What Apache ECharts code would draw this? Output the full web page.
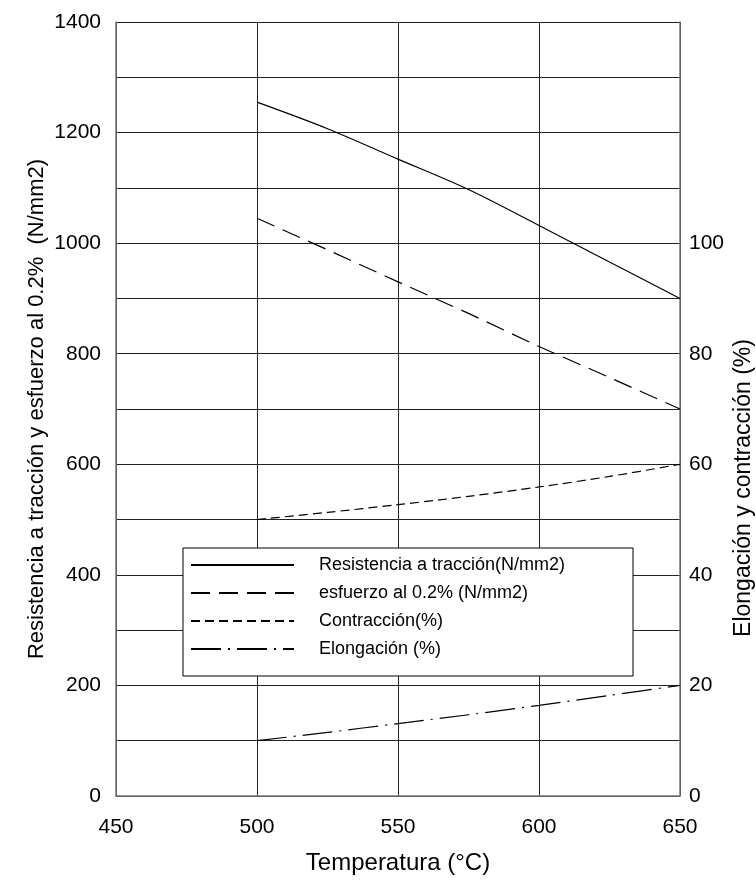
<!DOCTYPE html>
<html>
<head>
<meta charset="utf-8">
<script src="https://cdn.jsdelivr.net/npm/echarts@6/dist/echarts.min.js"></script>
<style>
html,body{margin:0;padding:0;background:#fff;}
#c{width:756px;height:880px;}
</style>
</head>
<body>
<div id="c"></div>
<script>
// ---- data ----
var temperaturas = [500, 525, 550, 575, 600, 625, 650];
var resistencia = [1255, 1207, 1152, 1097, 1032, 966, 900];
var esfuerzo = [1045, 988, 930, 873, 813, 757, 700];
var contraccion = [50, 51.3, 52.7, 54.2, 55.9, 57.8, 60];
var elongacion = [10, 11.5, 13.1, 14.7, 16.4, 18.2, 20];
var nombres = ['Resistencia a tracción(N/mm2)', 'esfuerzo al 0.2% (N/mm2)', 'Contracción(%)', 'Elongación (%)'];
var xTicks = [450, 500, 550, 600, 650];
var leftLabels = [0, 200, 400, 600, 800, 1000, 1200, 1400];
var rightLabels = [0, 20, 40, 60, 80, 100];

function pairs(xs, ys) { return xs.map(function (x, i) { return [x, ys[i]]; }); }

var FONT = '"Liberation Sans", Arial, sans-serif';
var LEG_FS = 18;

// measure widest legend text to size the legend box
var cv = document.createElement('canvas').getContext('2d');
cv.font = LEG_FS + 'px "Liberation Sans", Arial, sans-serif';
var maxW = 0;
nombres.forEach(function (n) { maxW = Math.max(maxW, cv.measureText(n).width); });
var boxW = 449, padL = 7, iconW = 103, textPadL = 20;
var padR = Math.max(4, boxW - (padL + iconW + 5 + textPadL + maxW));

var chart = echarts.init(document.getElementById('c'), null, {renderer: 'canvas'});

function lineSeries(name, data, axisIdx, type, smooth) {
  return {
    name: name, type: 'line', yAxisIndex: axisIdx, data: data,
    symbol: 'none', smooth: smooth ? 0.3 : false, silent: true, animation: false,
    lineStyle: {color: '#000', width: 1.2, type: type}
  };
}

chart.setOption({
  animation: false,
  backgroundColor: '#fff',
  grid: {left: 116, right: 76, top: 22, bottom: 83},
  xAxis: {
    type: 'value', min: xTicks[0], max: xTicks[xTicks.length - 1], interval: 50,
    name: 'Temperatura (°C)', nameLocation: 'middle', nameGap: 55,
    nameTextStyle: {fontFamily: FONT, fontSize: 24, color: '#000'},
    axisLine: {show: true, lineStyle: {color: '#777', width: 1.5}},
    axisTick: {show: false},
    axisLabel: {margin: 21, fontFamily: FONT, fontSize: 21, color: '#000',
      formatter: function (v) { return xTicks.indexOf(v) >= 0 ? String(v) : ''; }},
    splitLine: {show: true, lineStyle: {color: '#222', width: 1}}
  },
  yAxis: [{
    type: 'value', min: 0, max: 1400, interval: 100, position: 'left',
    name: 'Resistencia a tracción y esfuerzo al 0.2%  (N/mm2)', nameLocation: 'middle', nameGap: 68,
    nameMoveOverlap: false,
    nameTextStyle: {fontFamily: FONT, fontSize: 22, color: '#000'},
    axisLine: {show: true, lineStyle: {color: '#777', width: 1.5}},
    axisTick: {show: false},
    axisLabel: {margin: 15, fontFamily: FONT, fontSize: 21, color: '#000',
      formatter: function (v) { return leftLabels.indexOf(v) >= 0 ? String(v) : ''; }},
    splitLine: {show: true, lineStyle: {color: '#222', width: 1}}
  }, {
    type: 'value', min: 0, max: 140, interval: 20, position: 'right',
    axisLine: {show: true, lineStyle: {color: '#777', width: 1.5}},
    axisTick: {show: false},
    axisLabel: {margin: 9, fontFamily: FONT, fontSize: 21, color: '#000',
      formatter: function (v) { return rightLabels.indexOf(v) >= 0 ? String(v) : ''; }},
    splitLine: {show: false}
  }],
  legend: {
    show: true, orient: 'vertical', left: 183, top: 548,
    padding: [8, padR, 18, padL],
    backgroundColor: '#fff', borderColor: '#000', borderWidth: 1, borderRadius: 0,
    itemWidth: iconW, itemHeight: 14, itemGap: 10, z: 10,
    itemStyle: {opacity: 0, borderWidth: 0},
    data: nombres,
    formatter: function (n) { return '{a|' + n + '}'; },
    textStyle: {fontFamily: FONT, fontSize: LEG_FS, color: '#000',
      rich: {a: {fontFamily: FONT, fontSize: LEG_FS, color: '#000', padding: [0, 0, 0, textPadL]}}}
  },
  graphic: [{
    type: 'text', x: 744, y: 488, rotation: Math.PI / 2, silent: true,
    style: {text: 'Elongación y contracción (%)', fontFamily: FONT, fontSize: 23, fill: '#000',
      align: 'center', verticalAlign: 'middle'}
  }],
  series: [
    lineSeries(nombres[0], pairs(temperaturas, resistencia), 0, 'solid', true),
    lineSeries(nombres[1], pairs(temperaturas, esfuerzo), 0, [19, 9], false),
    lineSeries(nombres[2], pairs(temperaturas, contraccion), 1, [9, 5], true),
    lineSeries(nombres[3], pairs(temperaturas, elongacion), 1, [30, 7, 2, 7], true)
  ]
});
</script>
</body>
</html>
